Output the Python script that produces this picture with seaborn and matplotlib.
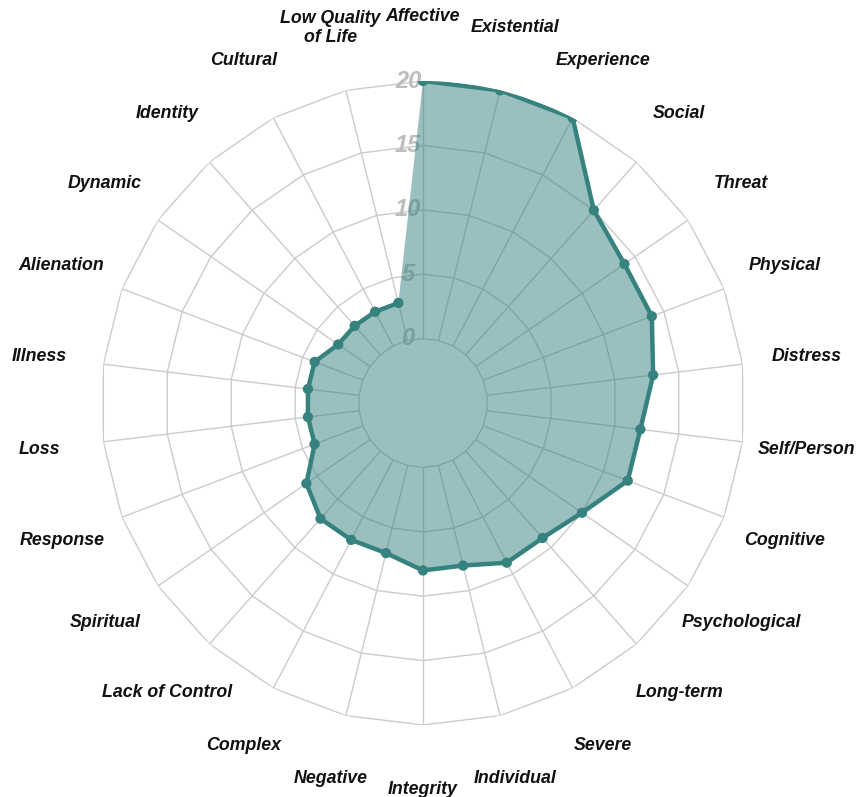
import numpy as np
import pandas as pd
import matplotlib
matplotlib.use("Agg")
import matplotlib.pyplot as plt
import matplotlib.transforms as mtransforms
import seaborn as sns

categories = [
    "Affective", "Existential", "Experience", "Social", "Threat", "Physical",
    "Distress", "Self/Person", "Cognitive", "Psychological", "Long-term",
    "Severe", "Individual", "Integrity", "Negative", "Complex",
    "Lack of Control", "Spiritual", "Response", "Loss", "Illness",
    "Alienation", "Dynamic", "Identity", "Cultural", "Low Quality\nof Life",
]
values = [20, 20, 20, 15, 14, 14, 13, 12, 12, 10, 9, 9, 8, 8, 7, 7, 7, 6, 4, 4, 4, 4, 3, 3, 3, 3]
ring_levels = [0, 5, 10, 15, 20]

teal = "#35827e"
grid_col = "#cbcbcb"

sns.set_theme(style="white")
plt.rcParams["font.family"] = ["Liberation Sans", "DejaVu Sans"]

n = len(categories)
angles = np.arange(n) * 2 * np.pi / n
df = pd.DataFrame({"angle": angles, "value": values, "category": categories})
closed = pd.concat([df, df.iloc[:1]], ignore_index=True)

fig = plt.figure(figsize=(8.58, 7.97), dpi=100)
ax = fig.add_axes([101 / 858, 72 / 797, 644 / 858, 644 / 797], projection="polar")
ax.set_theta_zero_location("N")
ax.set_theta_direction(-1)
ax.set_ylim(-5, 20)
ax.grid(False)
ax.set_xticks([])
ax.set_yticks([])
ax.spines["polar"].set_visible(False)

# polygon rings and spokes
ring_theta = np.append(angles, angles[0])
for lvl in ring_levels:
    ax.plot(ring_theta, [lvl] * len(ring_theta), color=grid_col, lw=1, zorder=1)
for a in angles:
    ax.plot([a, a], [0, 20], color=grid_col, lw=1, zorder=1)

# radial tick labels, under the fill
tick_tr = mtransforms.offset_copy(ax.transData, fig=fig, x=-15, y=0, units="dots")
for lvl in ring_levels:
    ax.text(0, lvl, str(lvl), transform=tick_tr, ha="center", va="center",
            fontsize=17, fontweight="bold", style="italic", color="#bdbdbd", zorder=2)

ax.fill(closed["angle"], closed["value"], color=teal, alpha=0.5, lw=0, zorder=3)
sns.lineplot(data=closed, x="angle", y="value", sort=False, color=teal, lw=3.2,
             ax=ax, zorder=4)
sns.scatterplot(data=df, x="angle", y="value", color=teal, s=55, edgecolor="none",
                ax=ax, zorder=5)
ax.set_xlabel("")
ax.set_ylabel("")

for a, name in zip(angles, categories):
    ax.text(a, 25, name, ha="center", va="center", fontsize=12.8, fontweight="bold",
            style="italic", color="#111111", linespacing=1.15)

fig.savefig("out.png", dpi=100)
